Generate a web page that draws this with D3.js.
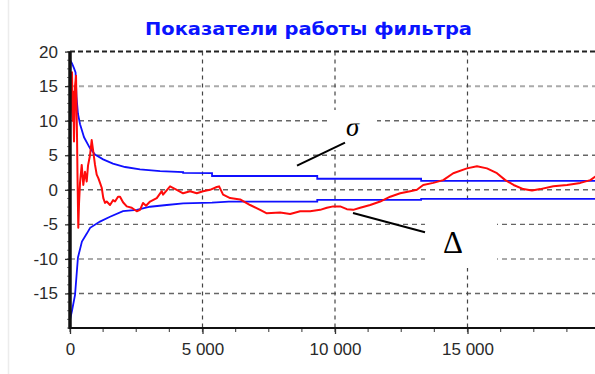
<!DOCTYPE html>
<html>
<head>
<meta charset="utf-8">
<script src="https://cdn.jsdelivr.net/npm/d3@7"></script>
<style>
body { margin: 0; background: #fff; }
</style>
</head>
<body>
<script>
// chart data
var title = "Показатели работы фильтра";

// step count n and the sigma envelope (upper / lower)
var sigmaUpN  = [0, 75, 150, 210, 245, 300, 380, 530, 755, 945, 1250, 1620, 2080, 2640, 3400, 4270, 4270, 5360, 5360, 9330, 9330, 13250, 13250, 20000];
var sigmaUpV  = [18.8, 18.3, 17.6, 17.0, 13.5, 11.0, 9.5, 7.6, 6.0, 5.1, 4.4, 3.8, 3.3, 2.95, 2.7, 2.55, 2.45, 2.4, 2.0, 2.0, 1.6, 1.6, 1.3, 1.3];
var sigmaLoN  = [0, 75, 190, 300, 450, 640, 760, 1130, 1510, 2000, 2520, 3020, 3650, 4270, 5360, 5990, 9330, 9330, 13250, 13250, 20000];
var sigmaLoV  = [-18.8, -17.5, -15.2, -9.8, -7.5, -6.3, -5.5, -4.6, -3.9, -3.1, -2.9, -2.45, -2.2, -1.95, -1.85, -1.7, -1.7, -1.45, -1.45, -1.3, -1.3];

// filter error delta
var deltaN = [0, 38, 76, 102, 125, 151, 189, 227, 264, 283, 313, 340, 378, 442, 502, 566, 631, 680, 755, 819, 880, 944,
  1008, 1069, 1133, 1197, 1257, 1322, 1386, 1510, 1624, 1699, 1812, 1888, 2001, 2141, 2330, 2519, 2643, 2756, 2870,
  3021, 3274, 3463, 3512, 3776, 4029, 4267, 4531, 4784, 5022, 5286, 5539, 5626, 5777, 6042, 6419, 6797, 7174, 7427,
  7930, 8307, 8685, 9062, 9440, 9693, 9931, 10195, 10448, 10686, 10950, 11328, 11706, 12083, 12461, 12838, 13091,
  13329, 13707, 14084, 14462, 14979, 15357, 15734, 16112, 16426, 16739, 17105, 17434, 17747, 18238, 18755, 19258,
  19635, 19824, 20000];
var deltaV = [10, 13, 17, 10, 14.2, 7, 15, 16.5, 8, 2, -5.5, -2, 1, 3.6, 0.7, 2.6, 1.2, 3.5, 5, 7.2, 5.5, 3.6,
  2.2, 1.7, 1.0, 0.3, -1.2, -1.9, -1.7, -2.2, -1.5, -1.7, -1.0, -1.0, -1.8, -2.4, -2.6, -3.1, -2.9, -1.9, -2.3,
  -1.7, -1.2, -0.2, -0.7, 0.5, 0, -0.5, -0.2, -0.5, -0.2, 0, 0.4, 0.5, -0.7, -1.2, -1.4, -2.2, -2.9, -3.4,
  -3.3, -3.5, -3.1, -3.1, -2.9, -2.6, -2.4, -2.4, -2.8, -2.9, -2.6, -2.2, -1.7, -1.0, -0.5, -0.2, 0,
  0.7, 1.0, 1.4, 2.4, 3.1, 3.4, 3.1, 2.4, 1.4, 0.7, 0.1, -0.1, 0.1, 0.5, 0.7, 1.0,
  1.4, 1.9, 2.1];

var xTicks = [0, 5000, 10000, 15000];
var xTickLabels = ["0", "5 000", "10 000", "15 000"];
var yTicks = [20, 15, 10, 5, 0, -5, -10, -15];
var yTickLabels = ["20", "15", "10", "5", "0", "-5", "-10", "-15"];

var w = 595;
var h = 374;
var padLeft = 70, padTop = 51.6, padBottom = 328, padRight = 600;

var svg = d3.select("body")
  .append("svg")
  .attr("width", w)
  .attr("height", h);

var x_scale = d3.scaleLinear().domain([0, 20000]).range([padLeft, padRight]);
var y_scale = d3.scaleLinear().domain([-20, 20]).range([padBottom, padTop]);

// faint panel border at the left
svg.append("line")
  .attr("x1", 8.5).attr("x2", 8.5).attr("y1", 0).attr("y2", h)
  .attr("stroke", "#ececec").attr("stroke-width", 1.5);

// title
svg.append("text")
  .attr("x", 308.5)
  .attr("y", 34.5)
  .attr("text-anchor", "middle")
  .attr("textLength", 327)
  .attr("lengthAdjust", "spacingAndGlyphs")
  .style("font-family", "'DejaVu Sans', Verdana, sans-serif")
  .style("font-weight", "bold")
  .style("font-size", "18px")
  .attr("fill", "#0a14ff")
  .text(title);

// horizontal grid
var hGrid = [15, 10, 5, 0, -5, -10, -15];
svg.append("g").selectAll("line")
  .data(hGrid)
  .enter()
  .append("line")
  .attr("x1", padLeft).attr("x2", w)
  .attr("y1", function(d) { return y_scale(d); })
  .attr("y2", function(d) { return y_scale(d); })
  .attr("stroke", function(d) { return (d == 15 || d == -10) ? "#aaaaaa" : "#666666"; })
  .attr("stroke-width", function(d) { return (d == 15 || d == -10) ? 2 : 1.4; })
  .attr("stroke-dasharray", "5,4");

// top line (20) is darker
svg.append("line")
  .attr("x1", padLeft).attr("x2", w)
  .attr("y1", y_scale(20)).attr("y2", y_scale(20))
  .attr("stroke", "#222").attr("stroke-width", 2)
  .attr("stroke-dasharray", "5,3");

// vertical grid
svg.append("g").selectAll("line")
  .data([5000, 10000, 15000])
  .enter()
  .append("line")
  .attr("x1", function(d) { return x_scale(d); })
  .attr("x2", function(d) { return x_scale(d); })
  .attr("y1", padTop).attr("y2", padBottom)
  .attr("stroke", "#444").attr("stroke-width", 1.2)
  .attr("stroke-dasharray", "4,4");

// white label boxes hiding grid
svg.append("rect").attr("x", 328).attr("y", 110).attr("width", 49).attr("height", 40).attr("fill", "#fff");
svg.append("rect").attr("x", 425).attr("y", 202).attr("width", 72).attr("height", 66).attr("fill", "#fff");

// curves
svg.append("clipPath").attr("id", "plotclip")
  .append("rect").attr("x", padLeft).attr("y", padTop - 5).attr("width", w - padLeft).attr("height", padBottom - padTop + 5);

var line = d3.line()
  .x(function(d) { return x_scale(d[0]); })
  .y(function(d) { return y_scale(d[1]); });

var plotArea = svg.append("g").attr("clip-path", "url(#plotclip)");

plotArea.append("path")
  .datum(sigmaUpN.map(function(n, i) { return [n, sigmaUpV[i]]; }))
  .attr("d", line)
  .attr("fill", "none").attr("stroke", "#1010ff").attr("stroke-width", 1.8);

plotArea.append("path")
  .datum(sigmaLoN.map(function(n, i) { return [n, sigmaLoV[i]]; }))
  .attr("d", line)
  .attr("fill", "none").attr("stroke", "#1010ff").attr("stroke-width", 1.8);

plotArea.append("path")
  .datum(deltaN.map(function(n, i) { return [n, deltaV[i]]; }))
  .attr("d", line)
  .attr("fill", "none").attr("stroke", "#ff0a0a").attr("stroke-width", 2)
  .attr("stroke-linejoin", "round");

// axes
var x_axis = d3.axisBottom(x_scale)
  .tickValues(xTicks)
  .tickSize(6)
  .tickPadding(9)
  .tickFormat(function(d, i) { return xTickLabels[i]; });

var y_axis = d3.axisLeft(y_scale)
  .tickValues(yTicks)
  .tickSize(5)
  .tickPadding(7)
  .tickFormat(function(d, i) { return yTickLabels[i]; });

// minor ticks
var xMinor = d3.range(0, 20001, 1250);
svg.append("g").selectAll("line")
  .data(xMinor)
  .enter()
  .append("line")
  .attr("x1", function(d) { return x_scale(d); })
  .attr("x2", function(d) { return x_scale(d); })
  .attr("y1", padBottom).attr("y2", padBottom + 4)
  .attr("stroke", "#555").attr("stroke-width", 1.2);

var yMinor = d3.range(-20, 20.01, 1.25);
svg.append("g").selectAll("line")
  .data(yMinor)
  .enter()
  .append("line")
  .attr("x1", padLeft - 3).attr("x2", padLeft)
  .attr("y1", function(d) { return y_scale(d); })
  .attr("y2", function(d) { return y_scale(d); })
  .attr("stroke", "#777").attr("stroke-width", 1);

var gx = svg.append("g")
  .attr("transform", "translate(0," + padBottom + ")")
  .call(x_axis);

var gy = svg.append("g")
  .attr("transform", "translate(" + padLeft + ",0)")
  .call(y_axis);

gx.select(".domain").remove();
gy.select(".domain").remove();

svg.selectAll(".tick line").attr("stroke", "#333").attr("stroke-width", 1.3);
svg.selectAll(".tick text")
  .attr("fill", "#2a2a2a")
  .style("font-family", "'Liberation Sans', Arial, sans-serif")
  .style("font-size", "17px");

svg.append("line")
  .attr("x1", padLeft).attr("x2", w)
  .attr("y1", padBottom).attr("y2", padBottom)
  .attr("stroke", "#111").attr("stroke-width", 2.2);

svg.append("line")
  .attr("x1", padLeft).attr("x2", padLeft)
  .attr("y1", padTop).attr("y2", padBottom + 1)
  .attr("stroke", "#111").attr("stroke-width", 3.5);

// pointers and labels
svg.append("line")
  .attr("x1", 297).attr("y1", 165.7).attr("x2", 345).attr("y2", 142.7)
  .attr("stroke", "#000").attr("stroke-width", 2);
svg.append("line")
  .attr("x1", 353).attr("y1", 213).attr("x2", 425).attr("y2", 232.3)
  .attr("stroke", "#000").attr("stroke-width", 2);

svg.append("clipPath").attr("id", "sigclip")
  .append("rect").attr("x", 330).attr("y", 123.5).attr("width", 45).attr("height", 26);

svg.append("text")
  .attr("x", 346)
  .attr("y", 136)
  .attr("clip-path", "url(#sigclip)")
  .style("font-family", "'Liberation Serif', 'Times New Roman', serif")
  .style("font-style", "italic")
  .style("font-size", "27px")
  .attr("fill", "#000")
  .text("σ");

svg.append("text")
  .attr("x", 443)
  .attr("y", 253)
  .style("font-family", "'Liberation Serif', 'Times New Roman', serif")
  .style("font-size", "31px")
  .attr("fill", "#000")
  .text("Δ");
</script>
</body>
</html>
